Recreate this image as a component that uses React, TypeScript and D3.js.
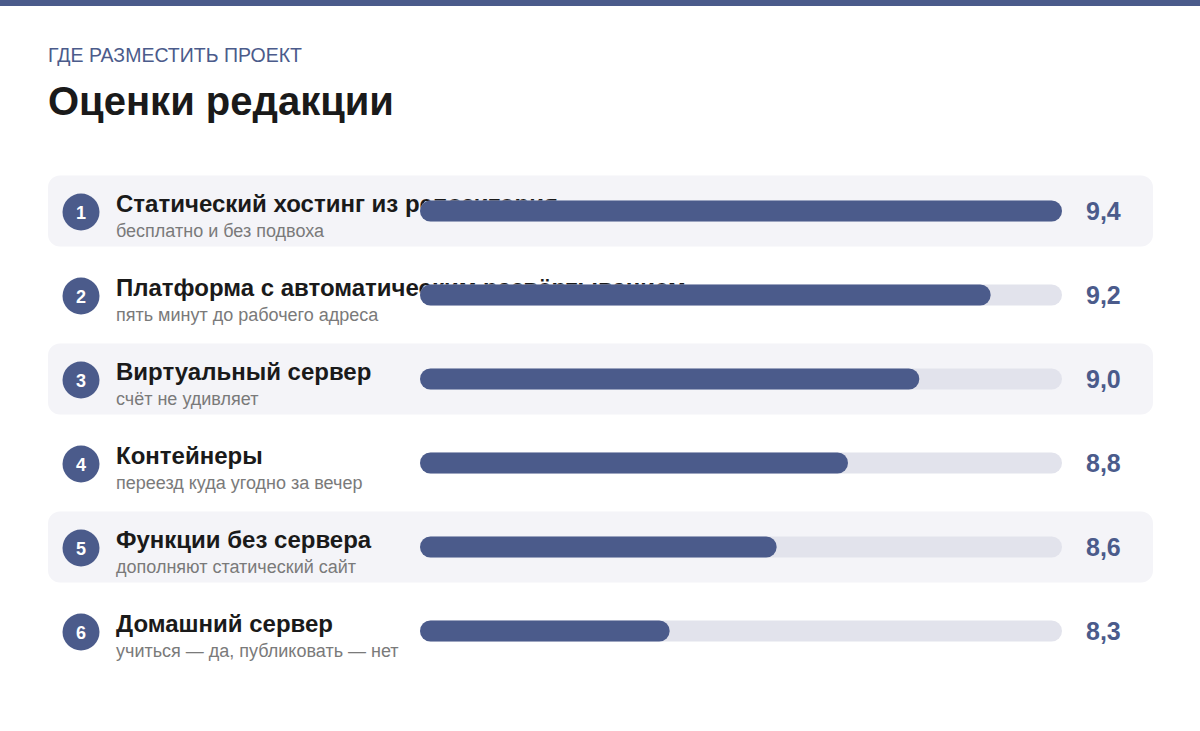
import React from "react";
import * as d3 from "d3";

const ranks = [1, 2, 3, 4, 5, 6];
const names = [
  "Статический хостинг из репозитория",
  "Платформа с автоматическим развёртыванием",
  "Виртуальный сервер",
  "Контейнеры",
  "Функции без сервера",
  "Домашний сервер",
];
const subtitles = [
  "бесплатно и без подвоха",
  "пять минут до рабочего адреса",
  "счёт не удивляет",
  "переезд куда угодно за вечер",
  "дополняют статический сайт",
  "учиться — да, публиковать — нет",
];
const scores = [9.4, 9.2, 9.0, 8.8, 8.6, 8.3];
const scoreDomain = [7.6, 9.4];

const W = 1200;
const H = 731;
const ACCENT = "#4b5b8b";
const FONT = "'Liberation Sans', Arial, Helvetica, sans-serif";

export default function App() {
  const x = d3.scaleLinear().domain(scoreDomain).range([420, 1062]);
  const y = d3.scaleBand<number>().domain(d3.range(names.length)).range([168, 672]).padding(0);
  const fmt = (v: number) => d3.format(".1f")(v).replace(".", ",");
  const trackH = 21;

  return (
    <svg width={W} height={H} style={{ position: "absolute", left: 0, top: 0, display: "block" }} fontFamily={FONT}>
      <rect x={0} y={0} width={W} height={H} fill="#ffffff" />
      <rect x={0} y={0} width={W} height={6} fill={ACCENT} />
      <text x={48} y={62} fontSize={19.5} fill={ACCENT}>ГДЕ РАЗМЕСТИТЬ ПРОЕКТ</text>
      <text x={48} y={115} fontSize={40} fontWeight="bold" fill="#1a1a1a">Оценки редакции</text>
      {names.map((n, i) => {
        const cy = (y(i) as number) + y.bandwidth() / 2 + 1;
        return (
          <g key={i}>
            {i % 2 === 0 && (
              <rect x={48} y={cy - 35.5} width={1105} height={71} rx={12} fill="#f4f4f8" />
            )}
            <circle cx={81} cy={cy + 1} r={18.5} fill={ACCENT} />
            <text x={81} y={cy + 7.5} textAnchor="middle" fontSize={18} fontWeight="bold" fill="#ffffff">
              {ranks[i]}
            </text>
            <text x={116} y={cy + 1} fontSize={24} fontWeight="bold" fill="#1a1a1a">{n}</text>
            <text x={116} y={cy + 26} fontSize={18} fill="#7a7a7a">{subtitles[i]}</text>
            <rect
              x={x(scoreDomain[0])}
              y={cy - trackH / 2}
              width={x(scoreDomain[1]) - x(scoreDomain[0])}
              height={trackH}
              rx={trackH / 2}
              fill="#e2e3ec"
            />
            <rect
              x={x(scoreDomain[0])}
              y={cy - trackH / 2}
              width={x(scores[i]) - x(scoreDomain[0])}
              height={trackH}
              rx={trackH / 2}
              fill={ACCENT}
            />
            <text x={1086} y={cy + 8.5} fontSize={25} fontWeight="bold" fill={ACCENT}>{fmt(scores[i])}</text>
          </g>
        );
      })}
    </svg>
  );
}
